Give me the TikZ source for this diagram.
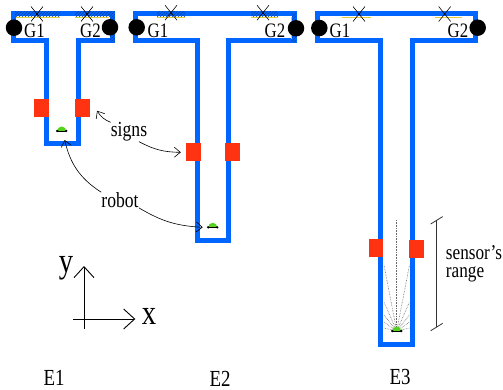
\documentclass[tikz,border=0pt]{standalone}
\usepackage{fontspec}
\setmainfont[FakeStretch=0.82]{Liberation Serif}
\definecolor{mapblue}{RGB}{0,102,255}
\definecolor{signred}{RGB}{255,51,17}
\definecolor{robotgreen}{RGB}{85,210,30}
\definecolor{trailyellow}{RGB}{225,205,60}
\usetikzlibrary{arrows.meta,positioning,patterns}

\begin{document}
\begin{tikzpicture}[x=1pt,y=-1pt,
  wall/.style={draw=mapblue,line width=5pt,miter limit=10},
  signbox/.style={fill=signred,minimum width=14.6pt,minimum height=17.6pt,inner sep=0pt},
  goal/.style={circle,fill=black,minimum size=16.5pt,inner sep=0pt},
  cross/.style={black,line width=0.6pt},
  hatch/.style={pattern=north east lines,pattern color=black!35!mapblue},
  trail/.style={trailyellow,line width=0.8pt},
  ray/.style={black!60,densely dotted,line width=0.6pt},
  curved/.style={-{Straight Barb[length=6pt,width=10pt]},line width=0.6pt},
  axis/.style={-{Straight Barb[length=11pt,width=20pt]},line width=0.9pt},
  goaltxt/.style={font=\fontsize{20.5}{20.5}\selectfont,inner sep=0pt},
  envtxt/.style={font=\fontsize{23}{23}\selectfont,inner sep=0pt},
  lbl/.style={font=\fontsize{21.5}{21.5}\selectfont,inner sep=0pt}]
  \useasboundingbox (0,0) rectangle (503,390);

  % the three T mazes
  \foreach \n/\xl/\xr/\sl/\sr/\yb in {1/13/112.5/46/78/144,2/135.5/294/197.5/228.5/240,3/317/475/380.5/412/344}
    \draw[wall] (\xl,14) -- (\xr,14) -- (\xr,41) -- (\sr,41) -- (\sr,\yb) -- (\sl,\yb) -- (\sl,41) -- (\xl,41) -- cycle;

  % hatched parts of the corridors
  \fill[hatch] (15,12) rectangle (60,16.5);
  \fill[hatch] (75,12) rectangle (110,16.5);
  \fill[hatch] (110,12) rectangle (115,42);
  \fill[hatch] (157,12) rectangle (185,16.5);
  \fill[hatch] (251,12) rectangle (278,16.5);
  \fill[hatch] (292,14) rectangle (296,42);
  \draw[trail] (16,17) -- (60,17) (75,17) -- (109,17);
  \draw[trail] (157,17) -- (185,17) (251,17) -- (278,17) (291,17) -- (291,39);
  \draw[trail] (342,17) -- (371,17) (435,17) -- (462,17);

  % signs
  \node[signbox] (sign1l) at (41.5,107.8) {};
  \node[signbox] (sign1r) at (82.6,107.8) {};
  \node[signbox] (sign2l) at (193.3,152.3) {};
  \node[signbox] (sign2r) at (232.6,152.3) {};
  \node[signbox] (sign3l) at (376,248.2) {};
  \node[signbox] (sign3r) at (416.3,249.2) {};

  % goals
  \node[goal] (goal1l) at (14,27.7) {};
  \node[goal] (goal1r) at (110,27.3) {};
  \node[goal] (goal2l) at (136.7,27.3) {};
  \node[goal] (goal2r) at (296,28.3) {};
  \node[goal] (goal3l) at (319.3,28) {};
  \node[goal] (goal3r) at (477.7,27.7) {};
  \node[goaltxt] (g1a) at (34.5,30.5) {G1};
  \node[goaltxt] (g2a) at (90.5,30.5) {G2};
  \node[goaltxt] (g1b) at (158,30.5) {G1};
  \node[goaltxt] (g2b) at (275,30.5) {G2};
  \node[goaltxt] (g1c) at (340,30.5) {G1};
  \node[goaltxt] (g2c) at (458,31) {G2};

  % crosses on the top walls
  \foreach \cx/\cy in {37/14,87/14,171/12.7,263/12.7,359/14,444.7/14}
    \draw[cross] (\cx-6,\cy-7.5) -- (\cx+6,\cy+7.5) (\cx+6,\cy-7.5) -- (\cx-6,\cy+7.5);

  % sensor fan
  \foreach \ex/\ey in {396.7/220,384/265,409.5/265,384/302,409.5/302,384/315,409.5/315,384/322,409.5/322,384/328,409.5/328}
    \draw[ray] (396.7,331) -- (\ex,\ey);

  % robots
  \foreach \n/\rx/\ry in {1/61.7/131,2/212.7/227.3,3/396.7/331} {
    \fill[robotgreen] (\rx-4.5,\ry) arc[start angle=180,end angle=360,radius=4.5];
    \draw[black,line width=0.7pt] (\rx-4.5,\ry) -- (\rx+4.5,\ry);
    \fill[black] (\rx-4.5,\ry) circle[radius=1.3] (\rx+4.5,\ry) circle[radius=1.3];
    \coordinate (robot\n) at (\rx,\ry);
  }

  % labels and arrows
  \node[lbl] (signs) at (129,132) {signs};
  \node[lbl] (robotlbl) at (120,200) {robot};
  \draw[curved] (signs.north west) to[bend left=18] ([shift={(7,-6)}]sign1r.south east);
  \draw[curved] ([xshift=10pt]signs.south) to[bend right=14] ([xshift=-5pt]sign2l.west);
  \draw[curved] (robotlbl.north west) to[bend left=22] ([shift={(3,9)}]robot1);
  \draw[curved] (robotlbl.south east) to[bend right=14] ([xshift=-10pt]robot2);

  % sensor's range
  \coordinate (rangetop) at (436.7,220.3);
  \coordinate (rangebot) at (436.7,327);
  \draw[black!80,line width=0.8pt] (rangetop) -- (rangebot);
  \draw[black!80,line width=0.8pt] ([shift={(-6,3.7)}]rangetop) -- ([shift={(6,-3.7)}]rangetop);
  \draw[black!80,line width=0.8pt] ([shift={(-6,3.7)}]rangebot) -- ([shift={(6,-3.7)}]rangebot);
  \node[font=\fontsize{21}{18.5}\selectfont,align=left,inner sep=0pt,anchor=west] (rangelbl) at (445.7,264) {sensor's\\range};

  % axes
  \coordinate (xstart) at (73.3,319);
  \coordinate (ystart) at (84,329);
  \node[font=\fontsize{35}{35}\selectfont,inner sep=0pt] (xlbl) at (149,316) {x};
  \node[font=\fontsize{35}{35}\selectfont,inner sep=0pt] (ylbl) at (66,268) {y};
  \draw[axis] (xstart) -- (135.3,319);
  \draw[axis] (ystart) -- (84,266);

  % environment names
  \node[envtxt] (e1) at (54,378) {E1};
  \node[envtxt] (e2) at (220,378.5) {E2};
  \node[envtxt] (e3) at (400,377) {E3};
\end{tikzpicture}
\end{document}
